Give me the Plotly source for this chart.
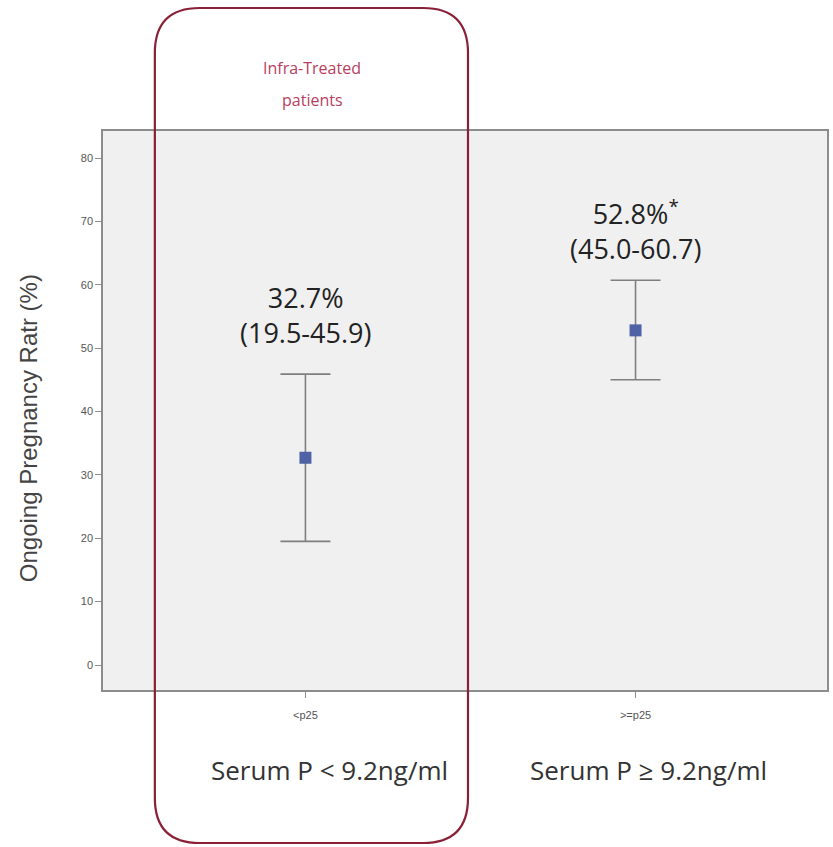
import plotly.graph_objects as go

# ---- data ----
categories = ["&lt;p25", "&gt;=p25"]
group_labels = ["Serum P &lt; 9.2ng/ml", "Serum P ≥ 9.2ng/ml"]
rates = [32.7, 52.8]
ci_low = [19.5, 45.0]
ci_high = [45.9, 60.7]
rate_text = ["32.7%", "52.8%<sup>*</sup>"]
ci_text = ["(19.5-45.9)", "(45.0-60.7)"]
y_ticks = [0, 10, 20, 30, 40, 50, 60, 70, 80]

# ---- layout geometry (pixels / styling) ----
FW, FH = 833, 847
L, R, T, B = 103, 4, 131, 157
W = FW - L - R
H = FH - T - B
BOT = FH - B
label_gap = [9.3, 7.9]        # gap (in axis units) above CI top for the value labels
group_label_px = [330, 650]   # horizontal centre of group captions (pixels)


def px(X):
    return (X - L) / W


def py(Y):
    return (BOT - Y) / H


xpos = list(range(len(categories)))

fig = go.Figure()
fig.add_trace(go.Scatter(
    x=xpos, y=rates, mode="markers",
    marker=dict(symbol="square", size=12, color="#4f62a6"),
    error_y=dict(type="data", symmetric=False,
                 array=[h - r for h, r in zip(ci_high, rates)],
                 arrayminus=[r - l for l, r in zip(ci_low, rates)],
                 color="#7f7f7f", thickness=1.6, width=25),
    showlegend=False, hoverinfo="skip"))

annotations = []
for i in xpos:
    annotations.append(dict(x=i, y=ci_high[i] + label_gap[i], xref="x", yref="y",
                            xanchor="center", yanchor="middle",
                            text=rate_text[i] + "<br>" + ci_text[i], showarrow=False,
                            font=dict(family="Open Sans", size=27, color="#222222")))
    annotations.append(dict(x=px(group_label_px[i]), y=py(770), xref="paper", yref="paper",
                            xanchor="center", yanchor="middle",
                            text=group_labels[i], showarrow=False,
                            font=dict(family="Open Sans", size=26, color="#333333")))

annotations.append(dict(x=px(28), y=py(428), xref="paper", yref="paper",
                        xanchor="center", yanchor="middle",
                        text="Ongoing Pregnancy Ratr (%)", textangle=-90,
                        showarrow=False,
                        font=dict(family="Liberation Sans", size=24, color="#444444")))
annotations.append(dict(x=px(313), y=py(68), xref="paper", yref="paper",
                        xanchor="center", yanchor="middle",
                        text="Infra-Treated", showarrow=False,
                        font=dict(family="Open Sans", size=16, color="#b8405e")))
annotations.append(dict(x=px(313), y=py(100), xref="paper", yref="paper",
                        xanchor="center", yanchor="middle",
                        text="patients", showarrow=False,
                        font=dict(family="Open Sans", size=16, color="#b8405e")))

# rounded rectangle
x0, x1 = px(155), px(469)
yt, yb = py(8), py(843)
rx, ry = 45 / W, 45 / H
path = (f"M {x0+rx},{yt} L {x1-rx},{yt} Q {x1},{yt} {x1},{yt-ry} "
        f"L {x1},{yb+ry} Q {x1},{yb} {x1-rx},{yb} "
        f"L {x0+rx},{yb} Q {x0},{yb} {x0},{yb+ry} "
        f"L {x0},{yt-ry} Q {x0},{yt} {x0+rx},{yt} Z")

fig.update_layout(
    width=FW, height=FH,
    margin=dict(l=L, r=R, t=T, b=B, pad=0),
    paper_bgcolor="white", plot_bgcolor="#f0f0f0",
    annotations=annotations,
    shapes=[dict(type="path", path=path, xref="paper", yref="paper",
                 line=dict(color="#8a2036", width=2.2), layer="above")],
    xaxis=dict(range=[-203 / 331, -203 / 331 + W / 331],
               tickmode="array", tickvals=xpos, ticktext=categories,
               showgrid=False, zeroline=False,
               showline=True, linecolor="#8c8c8c", linewidth=1.5, mirror=True,
               ticks="outside", ticklen=6, tickcolor="#8c8c8c",
               ticklabelstandoff=8,
               tickfont=dict(family="Liberation Sans", size=11, color="#555555")),
    yaxis=dict(range=[-25 / 6.3375, 80 + 27 / 6.3375],
               tickmode="array", tickvals=y_ticks,
               showgrid=False, zeroline=False,
               showline=True, linecolor="#8c8c8c", linewidth=1.5, mirror=True,
               ticks="outside", ticklen=6, tickcolor="#8c8c8c",
               tickfont=dict(family="Liberation Sans", size=11, color="#555555")),
)

fig.write_html("out.html")
